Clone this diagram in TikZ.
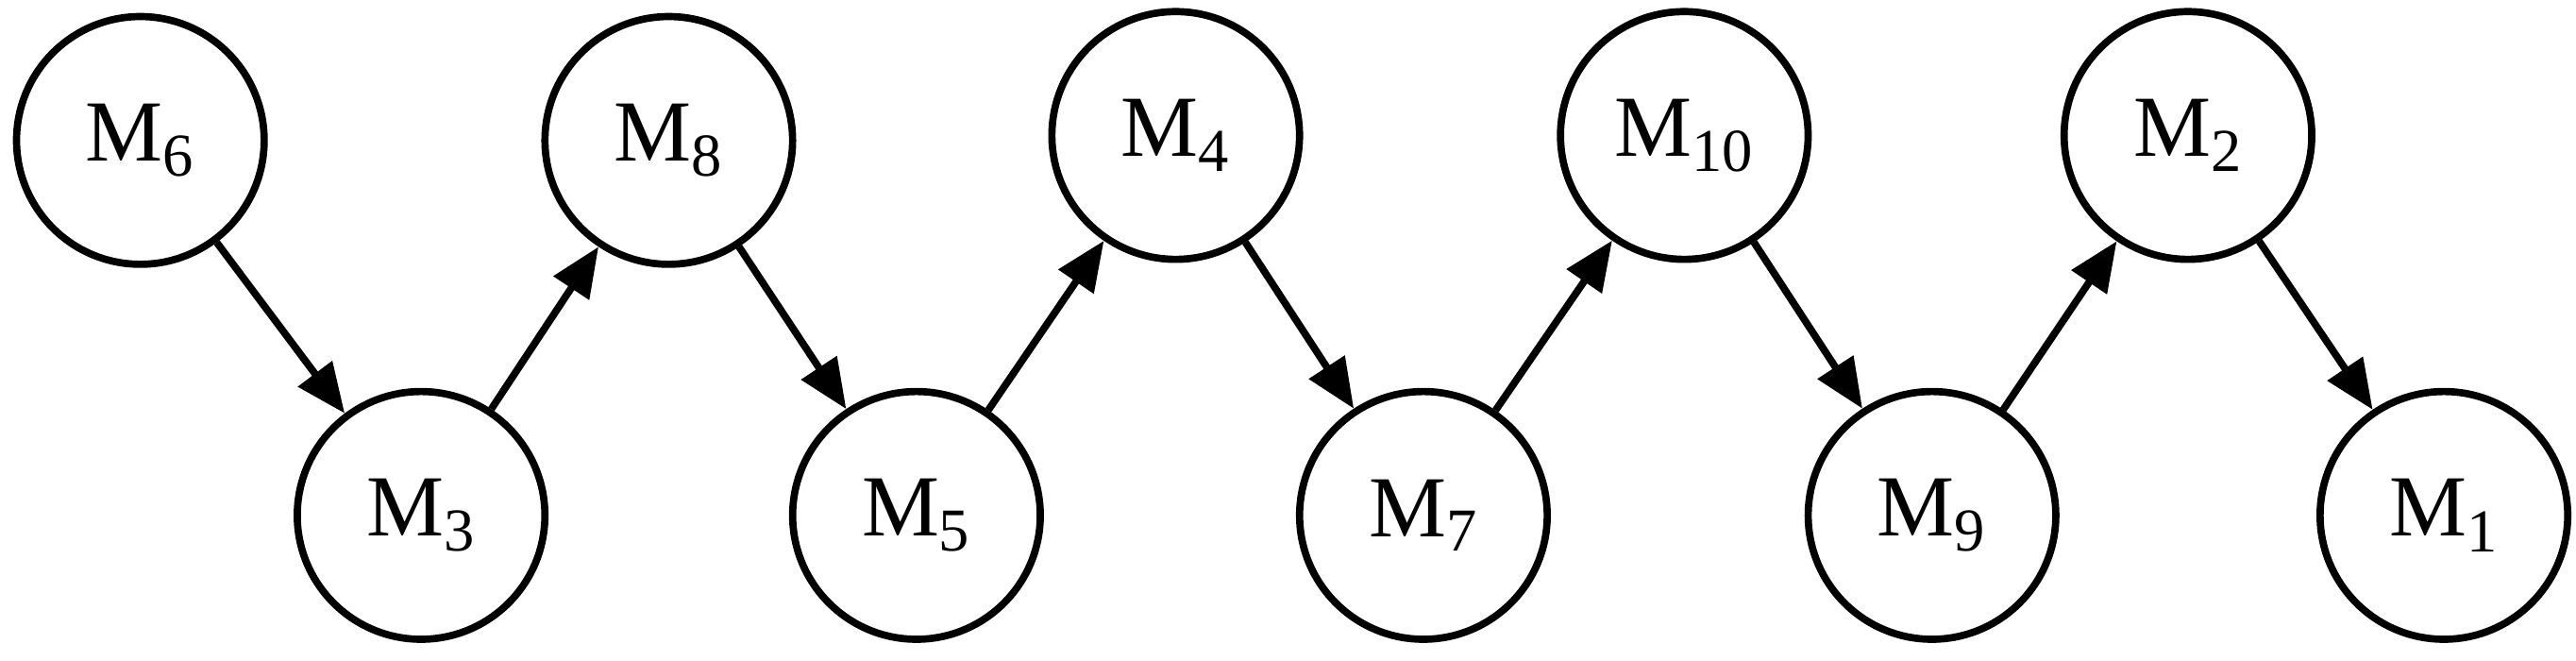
\documentclass[tikz,border=0pt]{standalone}
\usepackage{fontspec}
\setmainfont{Liberation Serif}
\usetikzlibrary{arrows.meta}
\begin{document}
\begin{tikzpicture}[x=0.02cm,y=-0.02cm,
  st/.style={circle,draw,line width=2.5pt,minimum size=3cm,inner sep=0pt,font=\fontsize{30}{36}\selectfont},
  ar/.style={line width=2.5pt,-{Triangle[length=0.6cm,width=0.5cm]}}]
\useasboundingbox (0,0) rectangle (1560,400);
\node[st] (m6) at (85,85) {M\textsubscript{6}};
\node[st] (m3) at (255,312) {M\textsubscript{3}};
\node[st] (m8) at (405,85) {M\textsubscript{8}};
\node[st] (m5) at (555,312) {M\textsubscript{5}};
\node[st] (m4) at (712,82) {M\textsubscript{4}};
\node[st] (m7) at (862,312) {M\textsubscript{7}};
\node[st] (m10) at (1020,82) {M\textsubscript{10}};
\node[st] (m9) at (1170,312) {M\textsubscript{9}};
\node[st] (m2) at (1325,82) {M\textsubscript{2}};
\node[st] (m1) at (1480,312) {M\textsubscript{1}};
\draw[ar] (m6) -- (m3);
\draw[ar] (m3) -- (m8);
\draw[ar] (m8) -- (m5);
\draw[ar] (m5) -- (m4);
\draw[ar] (m4) -- (m7);
\draw[ar] (m7) -- (m10);
\draw[ar] (m10) -- (m9);
\draw[ar] (m9) -- (m2);
\draw[ar] (m2) -- (m1);
\end{tikzpicture}
\end{document}
